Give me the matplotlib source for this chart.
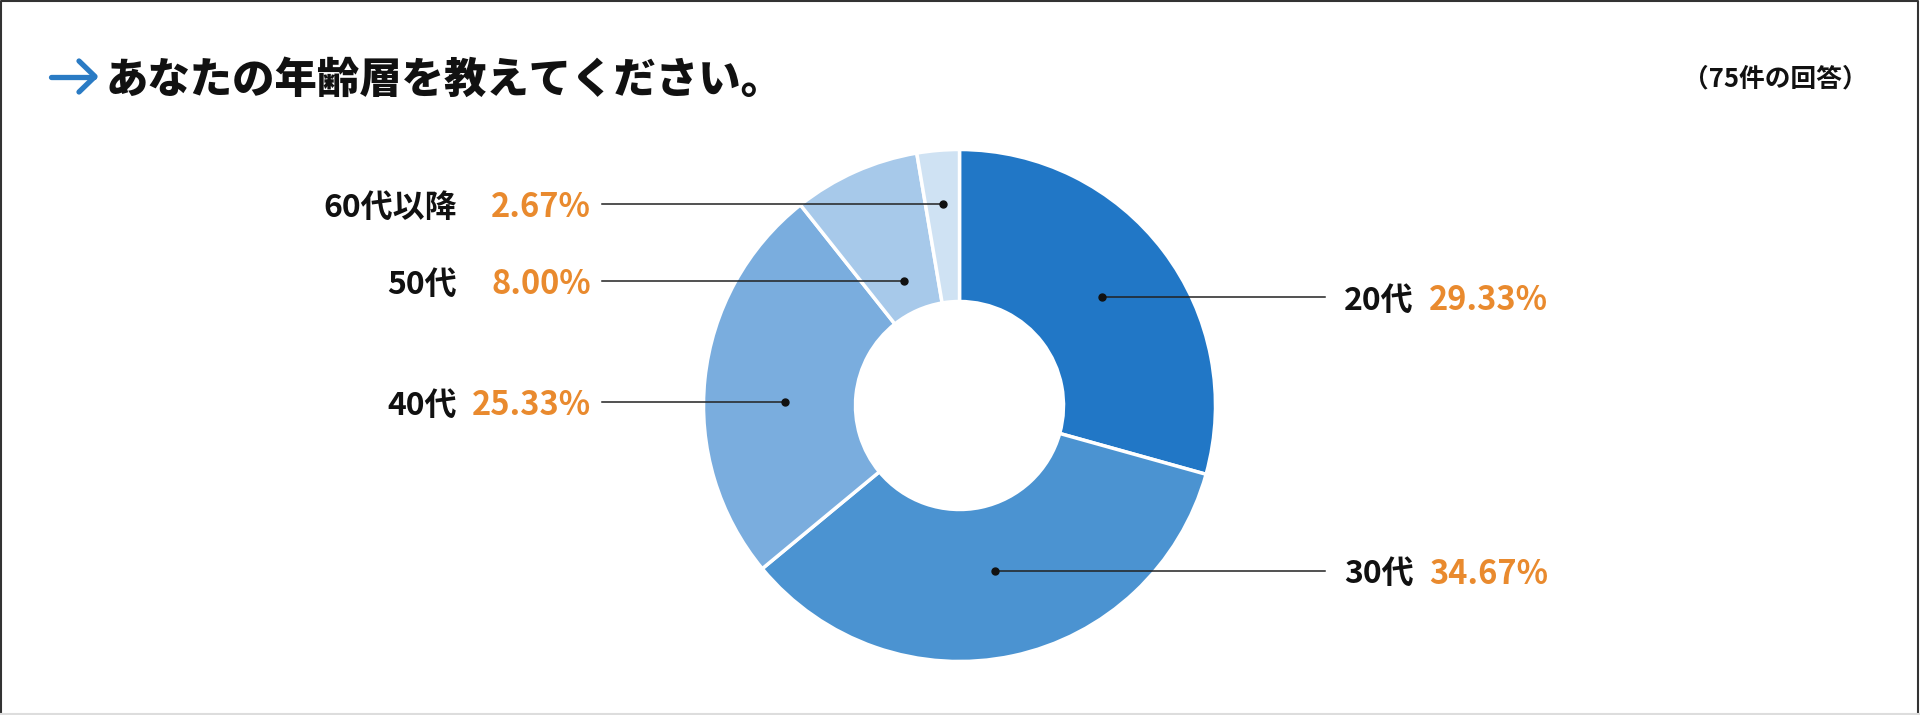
import numpy as np
import matplotlib
matplotlib.use('Agg')
import matplotlib.pyplot as plt

plt.rcParams['font.family'] = ['Noto Sans CJK JP', 'DejaVu Sans']

# data
categories = ['20代', '30代', '40代', '50代', '60代以降']
shares = [29.33, 34.67, 25.33, 8.00, 2.67]
colors = ['#2177c6', '#4b93d1', '#7aadde', '#a7c9ea', '#cfe2f3']
title = 'あなたの年齢層を教えてください。'
note = '（75件の回答）'

W, H = 1920, 715
ORANGE = '#e98a2e'
BLUE = '#2a7bc4'

# layout in pixels (y from top)
cx, cy = 959.5, 405.5
R_OUT, R_IN = 256, 104
dot_r = [179, 169, 175, 136, 202]       # radius of leader dot for each slice
dot_nudge = [0, 0, 5.0, 0, 0]           # small angle nudge (deg)
side = ['right', 'right', 'left', 'left', 'left']


def Y(y):
    return H - y


fig = plt.figure(figsize=(W / 100, H / 100), dpi=100)
ax = fig.add_axes([0, 0, 1, 1])

ax.pie(shares, colors=colors, startangle=90, counterclock=False,
       radius=R_OUT, center=(cx, Y(cy)),
       wedgeprops=dict(width=R_OUT - R_IN, edgecolor='white', linewidth=2.5))

# leader lines, dots and labels
total = sum(shares)
cum = 0
for cat, v, r, nud, s in zip(categories, shares, dot_r, dot_nudge, side):
    mid = 90 - 360 * (cum + v / 2) / total + nud
    cum += v
    dx = cx + r * np.cos(np.radians(mid))
    dy = Y(cy) + r * np.sin(np.radians(mid))
    ax.plot([dx], [dy], 'o', color='#111111', markersize=5, zorder=5)
    if s == 'right':
        ax.plot([dx, 1325], [dy, dy], color='#222222', lw=1.1, zorder=4)
        ax.text(1344, dy, cat, ha='left', va='center_baseline',
                fontsize=23, fontweight='bold', color='#111111')
        ax.text(1429, dy, f'{v:.2f}%', ha='left', va='center_baseline',
                fontsize=23.5, fontweight='bold', color=ORANGE)
    else:
        ax.plot([602, dx], [dy, dy], color='#222222', lw=1.1, zorder=4)
        ax.text(457, dy, cat, ha='right', va='center_baseline',
                fontsize=23, fontweight='bold', color='#111111')
        ax.text(591, dy, f'{v:.2f}%', ha='right', va='center_baseline',
                fontsize=23.5, fontweight='bold', color=ORANGE)

# title with arrow
ax.plot([51, 94], [Y(76.5), Y(76.5)], color=BLUE, lw=3.8, solid_capstyle='round')
ax.plot([79, 95, 79], [Y(61), Y(76.5), Y(92)], color=BLUE, lw=3.8,
        solid_capstyle='round', solid_joinstyle='round')
ax.text(106, Y(76), title, ha='left', va='center_baseline',
        fontsize=30.5, fontweight='heavy', color='#111111')
ax.text(1868, Y(76), note, ha='right', va='center_baseline',
        fontsize=18.5, fontweight='bold', color='#111111')

# frame
ax.plot([1, 1, W - 2, W - 2], [0, H - 1, H - 1, 0], color='#333333', lw=1.5)
ax.plot([0, W], [1, 1], color='#dddddd', lw=1.5)

ax.set_xlim(0, W)
ax.set_ylim(0, H)
ax.set_aspect('auto')
ax.axis('off')

fig.savefig('out.png', dpi=100, facecolor='white')
